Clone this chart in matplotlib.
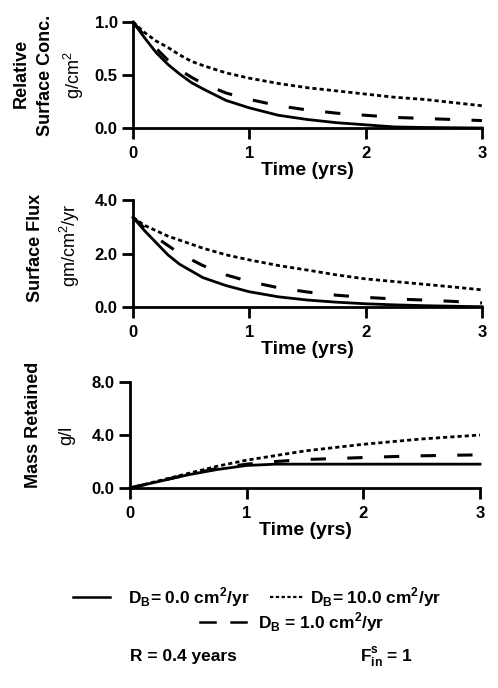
import numpy as np
import matplotlib
matplotlib.use("Agg")
import matplotlib.pyplot as plt
from matplotlib.lines import Line2D

plt.rcParams['font.family'] = ['Liberation Sans', 'DejaVu Sans']
plt.rcParams['mathtext.fontset'] = 'custom'
plt.rcParams['mathtext.rm'] = 'Liberation Sans'
plt.rcParams['mathtext.bf'] = 'Liberation Sans:bold'

# time points (yrs)
t_conc = [0, 0.1, 0.2, 0.3, 0.4, 0.5, 0.6, 0.8, 1.0, 1.25, 1.5, 1.75, 2.0, 2.25, 2.5, 3.0]
conc_d0 = [1.0, 0.85, 0.71, 0.6, 0.51, 0.43, 0.37, 0.26, 0.19, 0.12, 0.08, 0.05, 0.03, 0.01, 0.005, 0.0]
conc_d1 = [1.0, 0.87, 0.75, 0.64, 0.55, 0.48, 0.42, 0.33, 0.27, 0.21, 0.17, 0.14, 0.12, 0.1, 0.09, 0.07]
conc_d10 = [1.0, 0.9, 0.82, 0.76, 0.69, 0.63, 0.59, 0.52, 0.47, 0.42, 0.38, 0.35, 0.32, 0.29, 0.27, 0.21]

t_flux = [0, 0.1, 0.2, 0.3, 0.4, 0.6, 0.8, 1.0, 1.25, 1.5, 1.75, 2.0, 2.25, 2.5, 2.75, 3.0]
flux_d0 = [3.35, 2.85, 2.4, 1.95, 1.6, 1.1, 0.8, 0.57, 0.38, 0.26, 0.18, 0.12, 0.08, 0.05, 0.03, 0.01]
flux_d1 = [3.35, 2.95, 2.6, 2.3, 2.0, 1.55, 1.2, 0.95, 0.72, 0.56, 0.44, 0.36, 0.3, 0.26, 0.21, 0.15]
flux_d10 = [3.35, 3.05, 2.85, 2.65, 2.5, 2.2, 1.95, 1.76, 1.55, 1.38, 1.2, 1.05, 0.95, 0.85, 0.75, 0.64]

t_mass = [0, 0.25, 0.5, 0.75, 1.0, 1.25, 1.5, 1.75, 2.0, 2.25, 2.5, 2.75, 3.0]
mass_d0 = [0, 0.5, 1.0, 1.4, 1.7, 1.8, 1.8, 1.8, 1.8, 1.8, 1.8, 1.8, 1.8]
mass_d1 = [0, 0.52, 1.03, 1.48, 1.8, 2.0, 2.15, 2.22, 2.3, 2.37, 2.43, 2.47, 2.5]
mass_d10 = [0, 0.55, 1.1, 1.65, 2.1, 2.45, 2.8, 3.05, 3.3, 3.5, 3.7, 3.85, 4.0]

xticks = [0, 1, 2, 3]
xticklabels = ['0', '1', '2', '3']

W, H = 498, 688
fig = plt.figure(figsize=(W / 100, H / 100), dpi=100)

def px_rect(left, right, top, bottom):
    return [left / W, 1 - bottom / H, (right - left) / W, (bottom - top) / H]

solid = dict(color='black', lw=2.0, linestyle='-', clip_on=False)
dash = dict(color='black', lw=2.2, linestyle=(0, (5, 7)), clip_on=False)
dot = dict(color='black', lw=2.0, linestyle=(0, (1.5, 1.1)), clip_on=False)

def style(ax, ymax, yticks, yticklabels):
    ax.set_xlim(0, 3)
    ax.set_ylim(0, ymax)
    for s in ['top', 'right']:
        ax.spines[s].set_visible(False)
    for s in ['left', 'bottom']:
        ax.spines[s].set_linewidth(2.0)
    ax.set_xticks(xticks)
    ax.set_xticklabels(xticklabels, fontsize=12, fontweight='bold')
    ax.set_yticks(yticks)
    ax.set_yticklabels(yticklabels, fontsize=12, fontweight='bold')
    ax.tick_params(direction='out', length=8, width=2, pad=3)
    ax.tick_params(axis='x', pad=5)
    ax.set_xlabel('Time (yrs)', fontsize=14, fontweight='bold', labelpad=1)

ax1 = fig.add_axes(px_rect(133, 482, 22, 128))
ax1.plot(t_conc, conc_d0, **solid)
ax1.plot(t_conc, conc_d1, **dash)
ax1.plot(t_conc, conc_d10, **dot)
style(ax1, 1.0, [0, 0.5, 1.0], ['0.0', '0.5', '1.0'])

ax2 = fig.add_axes(px_rect(133, 482, 200, 307))
ax2.plot(t_flux, flux_d0, **solid)
ax2.plot(t_flux, flux_d1, **dash)
ax2.plot(t_flux, flux_d10, **dot)
style(ax2, 4.0, [0, 2, 4], ['0.0', '2.0', '4.0'])

ax3 = fig.add_axes(px_rect(130, 480, 382, 488))
ax3.plot(t_mass, mass_d0, **solid)
ax3.plot(t_mass, mass_d1, **dash)
ax3.plot(t_mass, mass_d10, **dot)
style(ax3, 8.0, [0, 4, 8], ['0.0', '4.0', '8.0'])

def ftext(x, y, s, **kw):
    fig.text(x / W, 1 - y / H, s, **kw)

# y axis labels
ftext(21, 73, 'Relative', rotation=90, ha='center', va='center', fontsize=13, fontweight='bold')
ftext(45, 75, 'Surface Conc.', rotation=90, ha='center', va='center', fontsize=13, fontweight='bold')
ftext(74, 75, 'g/cm$^2$', rotation=90, ha='center', va='center', fontsize=13)
ftext(35, 248, 'Surface Flux', rotation=90, ha='center', va='center', fontsize=13, fontweight='bold')
ftext(70, 245, 'gm/cm$^2$/yr', rotation=90, ha='center', va='center', fontsize=13)
ftext(33, 425, 'Mass Retained', rotation=90, ha='center', va='center', fontsize=13, fontweight='bold')
ftext(67, 435, 'g/l', rotation=90, ha='center', va='center', fontsize=13)

# legend
def fline(x0, x1, y, **kw):
    fig.add_artist(Line2D([x0 / W, x1 / W], [1 - y / H, 1 - y / H], color='black', **kw))

fline(73, 110, 597, lw=1.8)
ftext(128, 597, r'D$_\mathbf{B}$= 0.0 cm$^\mathbf{2}$/yr', ha='left', va='center', fontsize=12.5, fontweight='bold')
fline(270, 304, 597, lw=1.6, linestyle=(0, (1.5, 1.1)))
ftext(310, 597, r'D$_\mathbf{B}$= 10.0 cm$^\mathbf{2}$/yr', ha='left', va='center', fontsize=12.5, fontweight='bold')
fline(200, 215, 622, lw=1.8)
fline(231, 246, 622, lw=1.8)
ftext(258, 622, r'D$_\mathbf{B}$ = 1.0 cm$^\mathbf{2}$/yr', ha='left', va='center', fontsize=12.5, fontweight='bold')
ftext(130, 657, 'R = 0.4 years', ha='left', va='center', fontsize=12.5, fontweight='bold')
ftext(360, 657, r'F$_\mathbf{in}^\mathbf{s}$ = 1', ha='left', va='center', fontsize=12.5, fontweight='bold')

fig.savefig('out.png', dpi=100)
